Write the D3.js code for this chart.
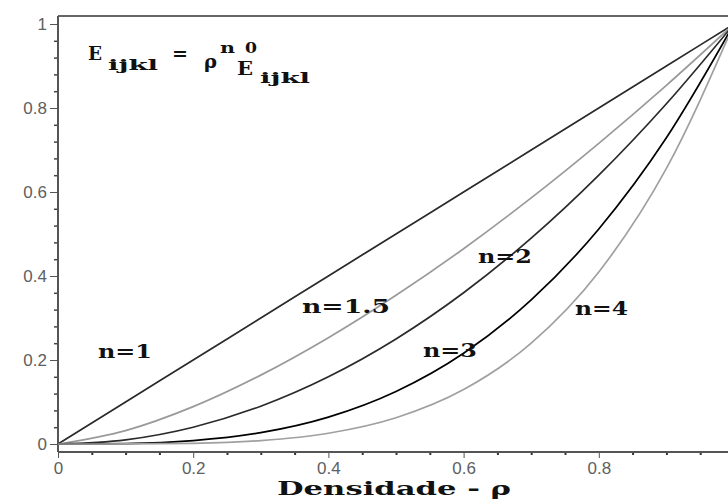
<!DOCTYPE html>
<html>
<head>
<meta charset="utf-8">
<script src="https://cdn.jsdelivr.net/npm/d3@7"></script>
<style>
  body { margin: 0; background: #fff; }
  svg { display: block; }
  .tick text { font-family: "Liberation Sans", Arial, sans-serif; font-size: 17px; fill: #606060; }
  .lbl { font-family: "DejaVu Serif", "Liberation Mono", monospace; font-weight: bold; fill: #111; }
</style>
</head>
<body>
<script>
// densidade (rho) sample points
var rho = [0, 0.1, 0.2, 0.3, 0.4, 0.5, 0.6, 0.7, 0.8, 0.9, 1];

// E/E0
var n1   = [0, 0.10, 0.20, 0.30, 0.40, 0.50, 0.60, 0.70, 0.80, 0.90, 1];
var n15  = [0, 0.032, 0.089, 0.164, 0.253, 0.354, 0.465, 0.586, 0.716, 0.854, 1];
var n2   = [0, 0.01, 0.04, 0.09, 0.16, 0.25, 0.36, 0.49, 0.64, 0.81, 1];
var n3   = [0, 0.001, 0.008, 0.027, 0.064, 0.125, 0.216, 0.343, 0.512, 0.729, 1];
var n4   = [0, 0.0001, 0.0016, 0.0081, 0.0256, 0.0625, 0.1296, 0.2401, 0.4096, 0.6561, 1];

var xTicks = [0, 0.2, 0.4, 0.6, 0.8, 1];
var yTicks = [0, 0.2, 0.4, 0.6, 0.8, 1];

var series = [
    { name: "n=1",   values: n1,  color: "#2a2a2a", label: [98, 358, 54] },
    { name: "n=1.5", values: n15, color: "#9a9a9a", label: [302, 313, 88] },
    { name: "n=2",   values: n2,  color: "#2a2a2a", label: [478, 263, 54] },
    { name: "n=3",   values: n3,  color: "#000000", label: [423, 357, 54] },
    { name: "n=4",   values: n4,  color: "#a0a0a0", label: [575, 315, 53] }
];

var W = 728, H = 502;
var svg = d3.select("body").append("svg")
    .attr("width", W)
    .attr("height", H);

var x = d3.scaleLinear().domain([0, 1]).range([58, 734]);
var y = d3.scaleLinear().domain([0, 1]).range([444, 24]);

// top frame line
svg.append("line")
    .attr("x1", 58).attr("x2", W)
    .attr("y1", 16).attr("y2", 16)
    .attr("stroke", "#666").attr("stroke-width", 2);

// minor ticks
var xMinor = d3.range(0, 1.0001, 0.05).filter(d => Math.round(d * 100) % 20 != 0);
var yMinor = d3.range(0, 1.0001, 0.04).filter(d => Math.round(d * 100) % 20 != 0);

svg.append("g")
    .attr("transform", "translate(0,452)")
    .call(d3.axisBottom(x).tickValues(xMinor).tickSize(3).tickFormat(""))
    .call(g => g.select(".domain").remove())
    .selectAll("line").attr("stroke", "#333").attr("stroke-width", 2);

svg.append("g")
    .attr("transform", "translate(58,0)")
    .call(d3.axisLeft(y).tickValues(yMinor).tickSize(4).tickFormat(""))
    .call(g => g.select(".domain").remove())
    .selectAll("line").attr("stroke", "#444").attr("stroke-width", 1.5);

// x axis
var xAxis = svg.append("g")
    .attr("transform", "translate(0,452)")
    .call(d3.axisBottom(x).tickValues(xTicks).tickSize(6).tickPadding(4)
        .tickFormat(d => d == 0 ? "0" : d == 1 ? "1" : d3.format(".1f")(d)));
xAxis.select(".domain").attr("d", "M58,0H" + W).attr("stroke", "#555").attr("stroke-width", 2);
xAxis.selectAll(".tick line").attr("stroke", "#555");

// y axis
var yAxis = svg.append("g")
    .attr("transform", "translate(58,0)")
    .call(d3.axisLeft(y).tickValues(yTicks).tickSize(8).tickPadding(3)
        .tickFormat(d => d == 0 ? "0" : d == 1 ? "1" : d3.format(".1f")(d)));
yAxis.select(".domain").attr("d", "M0,16V452").attr("stroke", "#555").attr("stroke-width", 2);
yAxis.selectAll(".tick line").attr("stroke", "#555");

// curves
var line = d3.line()
    .x((d, i) => x(rho[i]))
    .y(d => y(d))
    .curve(d3.curveMonotoneX);

svg.selectAll(".curve")
    .data(series)
    .enter().append("path")
    .attr("class", "curve")
    .attr("d", d => line(d.values))
    .attr("fill", "none")
    .attr("stroke", d => d.color)
    .attr("stroke-width", 1.7);

// curve labels
svg.selectAll(".clbl")
    .data(series)
    .enter().append("text")
    .attr("class", "lbl")
    .attr("x", d => d.label[0])
    .attr("y", d => d.label[1])
    .attr("font-size", 19)
    .attr("textLength", d => d.label[2])
    .attr("lengthAdjust", "spacingAndGlyphs")
    .text(d => d.name);

// axis title
svg.append("text")
    .attr("class", "lbl")
    .attr("x", 277).attr("y", 495)
    .attr("font-size", 19)
    .attr("textLength", 234)
    .attr("lengthAdjust", "spacingAndGlyphs")
    .text("Densidade - \u03c1");

// formula E_ijkl = rho^n E0_ijkl
var formula = [
    { t: "E",    x: 88,  y: 60, s: 19, w: 14 },
    { t: "ijkl", x: 108, y: 70, s: 15, w: 50 },
    { t: "=",    x: 172, y: 60, s: 19, w: 16 },
    { t: "\u03c1", x: 204, y: 68, s: 19, w: 13 },
    { t: "n",    x: 220, y: 53, s: 15, w: 15 },
    { t: "E",    x: 237, y: 75, s: 19, w: 16 },
    { t: "0",    x: 245, y: 53, s: 15, w: 12 },
    { t: "ijkl", x: 260, y: 83, s: 15, w: 50 }
];

svg.selectAll(".flbl")
    .data(formula)
    .enter().append("text")
    .attr("class", "lbl")
    .attr("x", d => d.x)
    .attr("y", d => d.y)
    .attr("font-size", d => d.s)
    .attr("textLength", d => d.w)
    .attr("lengthAdjust", "spacingAndGlyphs")
    .text(d => d.t);
</script>
</body>
</html>
